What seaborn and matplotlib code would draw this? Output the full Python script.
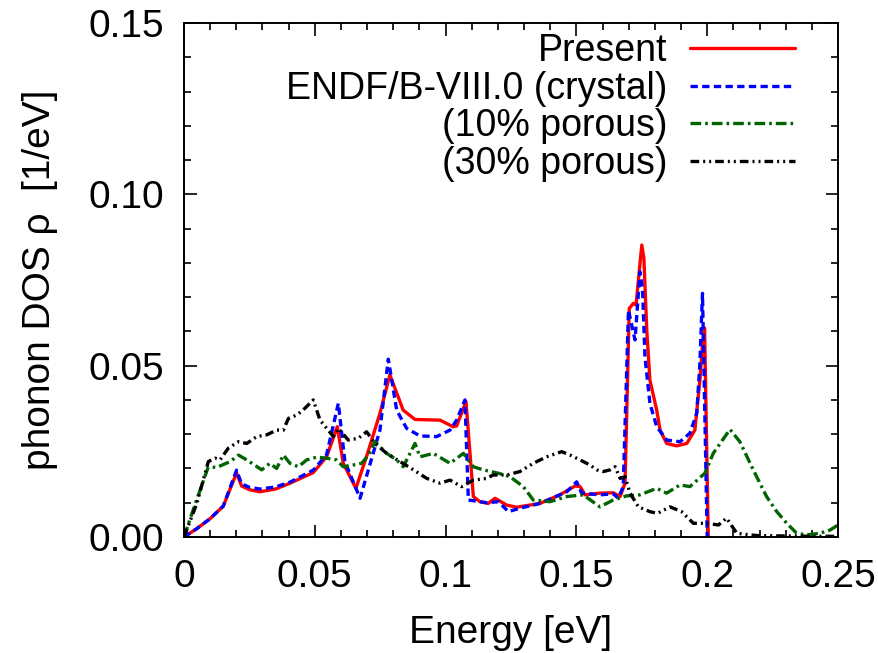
import matplotlib
matplotlib.use("Agg")
import matplotlib.pyplot as plt
from matplotlib import font_manager
from matplotlib.ticker import MultipleLocator
import seaborn as sns
import pandas as pd

# ---------------- data ----------------
E_present = [0, 0.005, 0.0099, 0.015, 0.0201, 0.022, 0.025, 0.029, 0.035, 0.0405, 0.0494, 0.0545,
             0.0586, 0.0609, 0.0657, 0.070, 0.0749, 0.0787, 0.0838, 0.0883, 0.093, 0.0979, 0.1028,
             0.1042, 0.1078, 0.1106, 0.1131, 0.1163, 0.1189, 0.1234, 0.1272, 0.1361, 0.1437, 0.1495,
             0.1514, 0.1533, 0.159, 0.1641, 0.1667, 0.1686, 0.1702, 0.1718, 0.1728, 0.1737, 0.175,
             0.1758, 0.1769, 0.1781, 0.1807, 0.182, 0.1845, 0.1883, 0.1922, 0.1953, 0.1972, 0.1983,
             0.1990, 0.2004]
rho_present = [0, 0.0025, 0.0053, 0.0090, 0.0187, 0.0149, 0.0138, 0.0132, 0.0140, 0.0157, 0.0188, 0.0234,
               0.0322, 0.0215, 0.0142, 0.0240, 0.0361, 0.0473, 0.0370, 0.0343, 0.0342, 0.0341, 0.0322,
               0.0324, 0.0395, 0.0118, 0.0103, 0.0098, 0.0113, 0.0093, 0.0087, 0.0098, 0.0123, 0.0149,
               0.0147, 0.0123, 0.0128, 0.0129, 0.0118, 0.0157, 0.0667, 0.0682, 0.0677, 0.0750, 0.0852,
               0.0813, 0.0604, 0.0458, 0.0370, 0.0312, 0.0273, 0.0266, 0.0273, 0.0312, 0.0458, 0.0570,
               0.0610, 0.0]

E_endf = [0, 0.005, 0.0099, 0.015, 0.0201, 0.022, 0.025, 0.029, 0.035, 0.0405, 0.0494, 0.0545, 0.059,
          0.0615, 0.0673, 0.0749, 0.0781, 0.0813, 0.0851, 0.0902, 0.0966, 0.1017, 0.1042, 0.1074,
          0.1087, 0.1157, 0.1202, 0.124, 0.1284, 0.1361, 0.1463, 0.1501, 0.152, 0.159, 0.1641, 0.166,
          0.1679, 0.1699, 0.1724, 0.1743, 0.1753, 0.1762, 0.1781, 0.1807, 0.1845, 0.1896, 0.1934,
          0.196, 0.1972, 0.1982, 0.2]
rho_endf = [0, 0.0025, 0.0053, 0.0090, 0.0195, 0.0155, 0.0145, 0.0140, 0.0146, 0.0160, 0.0195, 0.0240,
            0.0390, 0.0220, 0.0113, 0.0312, 0.0519, 0.0370, 0.0317, 0.0295, 0.0293, 0.0312, 0.0341,
            0.0400, 0.0108, 0.0100, 0.0103, 0.0074, 0.0084, 0.0098, 0.0132, 0.0161, 0.0128, 0.0123,
            0.0126, 0.0113, 0.0147, 0.0662, 0.0575, 0.0774, 0.0721, 0.0526, 0.0390, 0.0322, 0.0283,
            0.0278, 0.0303, 0.0361, 0.0507, 0.0711, 0.0]

E_por10 = [0, 0.004, 0.0093, 0.0125, 0.0176, 0.0208, 0.024, 0.0297, 0.0328, 0.0354, 0.038, 0.0405,
           0.0437, 0.0469, 0.0507, 0.0545, 0.0583, 0.0609, 0.0647, 0.0679, 0.0705, 0.073, 0.0775,
           0.0813, 0.0838, 0.0883, 0.0902, 0.0953, 0.1017, 0.1068, 0.1106, 0.1144, 0.1202, 0.1246,
           0.1297, 0.1335, 0.1399, 0.1463, 0.1526, 0.159, 0.1641, 0.1692, 0.1743, 0.1807, 0.1845,
           0.1896, 0.1934, 0.1991, 0.2023, 0.2087, 0.2125, 0.2176, 0.2227, 0.2266, 0.2304, 0.2342,
           0.238, 0.2431, 0.2469, 0.25]
rho_por10 = [0, 0.0090, 0.0205, 0.0203, 0.0220, 0.0239, 0.0225, 0.0196, 0.0215, 0.0200, 0.0239, 0.0215,
             0.0205, 0.0225, 0.0233, 0.0230, 0.0225, 0.0205, 0.0210, 0.0215, 0.0239, 0.0278, 0.0244,
             0.0225, 0.0205, 0.0273, 0.0234, 0.0244, 0.0215, 0.0244, 0.0205, 0.0196, 0.0186, 0.0176,
             0.0147, 0.0108, 0.0103, 0.0118, 0.0123, 0.0088, 0.0108, 0.0120, 0.0123, 0.0142, 0.0128,
             0.0152, 0.0147, 0.0186, 0.0244, 0.0314, 0.0278, 0.0196, 0.0118, 0.0074, 0.0040, 0.0011,
             0.0006, 0.0011, 0.0020, 0.0035]

E_por30 = [0, 0.0049, 0.0093, 0.0119, 0.0138, 0.0169, 0.0208, 0.024, 0.0278, 0.0316, 0.0354, 0.038,
           0.0399, 0.0431, 0.0456, 0.0494, 0.052, 0.0571, 0.059, 0.0628, 0.0666, 0.0698, 0.073,
           0.0775, 0.0826, 0.0877, 0.0928, 0.0979, 0.1017, 0.1061, 0.1106, 0.1157, 0.1182, 0.1234,
           0.1284, 0.1335, 0.1386, 0.1444, 0.1476, 0.1514, 0.1552, 0.1578, 0.1603, 0.1629, 0.1648,
           0.1667, 0.1686, 0.1705, 0.1737, 0.1781, 0.181, 0.1858, 0.1902, 0.1947, 0.1998, 0.2043,
           0.2074, 0.2113, 0.2164, 0.22, 0.23, 0.24, 0.25]
rho_por30 = [0, 0.0098, 0.0220, 0.0230, 0.0225, 0.0259, 0.0278, 0.0273, 0.0293, 0.0298, 0.0312, 0.0312,
             0.0346, 0.0356, 0.0371, 0.0400, 0.0341, 0.0293, 0.0317, 0.0283, 0.0288, 0.0307, 0.0273,
             0.0244, 0.0220, 0.0196, 0.0171, 0.0157, 0.0166, 0.0147, 0.0166, 0.0171, 0.0181, 0.0181,
             0.0191, 0.0215, 0.0234, 0.0249, 0.0239, 0.0225, 0.0210, 0.0196, 0.0191, 0.0196, 0.0205,
             0.0171, 0.0176, 0.0128, 0.0088, 0.0074, 0.0069, 0.0088, 0.0074, 0.0040, 0.0040, 0.0035,
             0.0055, 0.0011, 0.0006, 0.0004, 0.0003, 0.0002, 0.0002]

series_labels = ["Present", "ENDF/B-VIII.0 (crystal)", "(10% porous)", "(30% porous)"]
x_ticks = [0, 0.05, 0.1, 0.15, 0.2, 0.25]
x_tick_labels = ["0", "0.05", "0.1", "0.15", "0.2", "0.25"]
y_ticks = [0.0, 0.05, 0.10, 0.15]
y_tick_labels = ["0.00", "0.05", "0.10", "0.15"]
x_label = "Energy [eV]"
y_label = "phonon DOS \u03c1  [1/eV]"

# ---------------- style ----------------
sns.set_style("ticks")
fam = "Liberation Sans"
for cand in ["Liberation Sans Narrow", "Liberation Sans"]:
    try:
        font_manager.findfont(cand, fallback_to_default=False)
        fam = cand
        break
    except Exception:
        pass
plt.rcParams["font.family"] = [fam, "DejaVu Sans"]
plt.rcParams["text.color"] = "black"
plt.rcParams["axes.labelcolor"] = "black"
plt.rcParams["xtick.color"] = "black"
plt.rcParams["ytick.color"] = "black"
FS = 28

fig = plt.figure(figsize=(8.79, 6.53), dpi=100)
ax = fig.add_axes([184 / 879, 1 - 537 / 653, (838 - 184) / 879, (537 - 23) / 653])

styles = [
    dict(color="#ff0000", dashes=None),
    dict(color="#0000ff", dashes=(2.2, 1.3)),
    dict(color="#006400", dashes=(3.2, 1.2, 0.8, 1.2)),
    dict(color="#000000", dashes=(2.6, 1.2, 0.6, 1.2, 0.6, 1.2)),
]
xs = [E_present, E_endf, E_por10, E_por30]
ys = [rho_present, rho_endf, rho_por10, rho_por30]

handles = []
for x, y, lab, st in zip(xs, ys, series_labels, styles):
    df = pd.DataFrame({"E": x, "rho": y})
    n_before = len(ax.lines)
    sns.lineplot(data=df, x="E", y="rho", ax=ax, color=st["color"], lw=2.4,
                 sort=False, estimator=None, legend=False)
    ln = ax.lines[n_before]
    if st["dashes"] is not None:
        ln.set_dashes(st["dashes"])
    ln.set_label(lab)
    handles.append(ln)

ax.set_xlim(0, 0.25)
ax.set_ylim(0, 0.15)
ax.set_xticks(x_ticks)
ax.set_xticklabels(x_tick_labels)
ax.set_yticks(y_ticks)
ax.set_yticklabels(y_tick_labels)
ax.xaxis.set_minor_locator(MultipleLocator(0.01))
ax.yaxis.set_minor_locator(MultipleLocator(0.01))
ax.tick_params(which="both", direction="in", top=True, right=True, width=1.2, colors="black")
ax.tick_params(which="major", length=9, labelsize=FS)
ax.tick_params(axis="x", which="major", pad=16)
ax.tick_params(axis="y", which="major", pad=14)
ax.tick_params(which="minor", length=5)
for sp in ax.spines.values():
    sp.set_linewidth(1.4)
    sp.set_color("black")

ax.set_xlabel(x_label, fontsize=FS, labelpad=14)
ax.set_ylabel(y_label, fontsize=FS, labelpad=22)

leg = ax.legend(handles=handles, labels=series_labels, loc="upper right",
                bbox_to_anchor=((795 - 184) / 654, 0.98), frameon=False,
                markerfirst=False, fontsize=27, handlelength=2.8, handletextpad=0.6,
                labelspacing=0.04, borderpad=0, borderaxespad=0)

fig.savefig("out.png", dpi=100)
